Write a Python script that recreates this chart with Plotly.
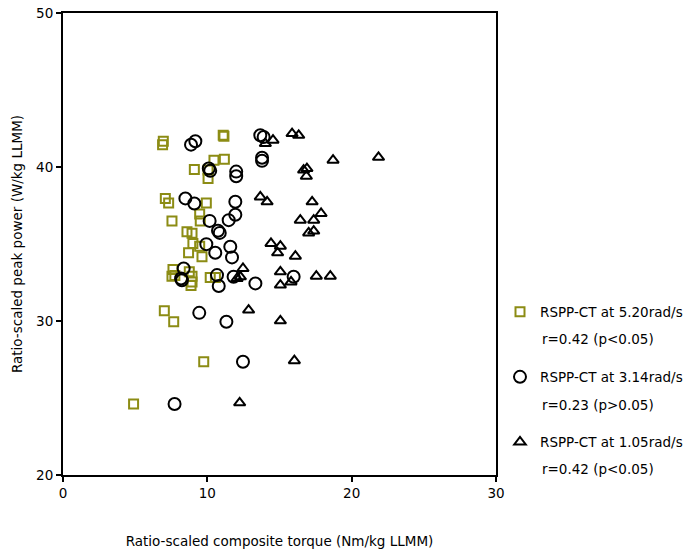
import plotly.graph_objects as go

# Ratio-scaled composite torque (x) vs ratio-scaled peak power (y)
torque_520 = [6.95, 6.9, 11.1, 11.15, 10.46, 11.18, 9.1, 10.05, 10.05, 7.09, 7.32, 9.93,
              7.55, 9.47, 9.51, 8.59, 8.94, 9.0, 9.47, 8.7, 9.63, 7.62, 7.55, 7.75, 8.75,
              8.94, 8.94, 8.87, 10.2, 10.56, 7.02, 7.67, 9.75, 4.89]
power_520 = [41.67, 41.45, 42.06, 42.0, 40.44, 40.5, 39.84, 39.8, 39.25, 37.96, 37.67, 37.67,
             36.5, 36.94, 36.5, 35.79, 35.69, 35.04, 34.86, 34.43, 34.17, 33.35, 32.9, 32.95, 33.2,
             32.9, 32.54, 32.3, 32.83, 32.83, 30.66, 29.95, 27.35, 24.61]

torque_314 = [8.87, 9.17, 10.1, 10.2, 12.0, 12.0, 13.67, 13.9, 13.79, 13.79, 8.48, 9.1,
              11.94, 11.94, 10.16, 11.48, 10.86, 10.74, 9.93, 10.55, 11.59, 11.71, 8.36, 8.18,
              8.24, 10.67, 10.79, 11.82, 13.33, 15.98, 9.44, 11.32, 12.47, 7.73]
power_314 = [41.45, 41.67, 39.9, 39.75, 39.7, 39.4, 42.06, 41.95, 40.6, 40.4, 37.96, 37.63,
             37.74, 36.9, 36.5, 36.55, 35.72, 35.86, 34.99, 34.43, 34.82, 34.13, 33.41, 32.76,
             32.65, 32.98, 32.27, 32.87, 32.44, 32.87, 30.53, 29.95, 27.35, 24.61]

torque_105 = [15.87, 16.33, 14.02, 14.55, 18.71, 21.86, 16.67, 16.9, 16.86, 13.67, 14.14, 17.26,
              17.88, 16.44, 17.37, 17.02, 17.37, 14.41, 15.06, 14.87, 16.1, 12.47, 12.06, 12.29,
              15.06, 15.06, 15.8, 17.55, 18.52, 12.86, 15.06, 16.03, 12.24]
power_105 = [42.17, 42.06, 41.52, 41.74, 40.44, 40.63, 39.8, 39.9, 39.4, 38.06, 37.74, 37.74,
             36.98, 36.55, 36.55, 35.72, 35.84, 35.04, 34.86, 34.43, 34.21, 33.41, 32.76, 32.87,
             33.19, 32.33, 32.54, 32.91, 32.91, 30.71, 30.01, 27.42, 24.69]

series_names = ["RSPP-CT at 5.20rad/s", "RSPP-CT at 3.14rad/s", "RSPP-CT at 1.05rad/s"]
series_stats = ["r=0.42 (p<0.05)", "r=0.23 (p>0.05)", "r=0.42 (p<0.05)"]

x_ticks = [0, 10, 20, 30]
y_ticks = [20, 30, 40, 50]

FONT = "DejaVu Sans"
OLIVE = "#8c8c14"

fig = go.Figure()
fig.add_trace(go.Scatter(
    x=torque_520, y=power_520, mode="markers", name=series_names[0], legendgroup="a",
    marker=dict(symbol="square-open", size=9, color=OLIVE, line=dict(width=2, color=OLIVE)),
))
fig.add_trace(go.Scatter(
    x=torque_314, y=power_314, mode="markers", name=series_names[1], legendgroup="b",
    marker=dict(symbol="circle-open", size=12, color="black", line=dict(width=2, color="black")),
))
fig.add_trace(go.Scatter(
    x=torque_105, y=power_105, mode="markers", name=series_names[2], legendgroup="c",
    marker=dict(symbol="triangle-up-open", size=10, color="black", line=dict(width=2, color="black")),
))

W, H = 688, 552
L, R, T, B = 63, 192, 13, 77
pw, ph = W - L - R, H - T - B


def px_to_paper(xp, yp):
    return (xp - L) / pw, (H - B - yp) / ph


# second line of each legend entry
for i, yp in enumerate([339, 405, 469]):
    xa, ya = px_to_paper(540, yp)
    fig.add_annotation(x=xa, y=ya, xref="paper", yref="paper", text=series_stats[i],
                       showarrow=False, xanchor="left", yanchor="middle",
                       font=dict(family=FONT, size=13.5, color="black"))

fig.update_layout(
    width=W, height=H,
    margin=dict(l=L, r=R, t=T, b=B, pad=0, autoexpand=False),
    paper_bgcolor="white", plot_bgcolor="white",
    font=dict(family=FONT, size=13.5, color="black"),
    showlegend=True,
    legend=dict(x=500 / W, y=(H - 296.5) / H, xref="container", yref="container",
                xanchor="left", yanchor="top", tracegroupgap=44.5,
                font=dict(family=FONT, size=13.5, color="black"), bgcolor="rgba(0,0,0,0)",
                valign="top"),
    xaxis=dict(range=[0, 30], tickvals=x_ticks, ticks="outside", ticklen=5, tickwidth=1.5,
               tickcolor="black", showline=True, linecolor="black", linewidth=2, mirror=True,
               showgrid=False, zeroline=False,
               title=dict(text="Ratio-scaled composite torque (Nm/kg LLMM)", standoff=36,
                          font=dict(family=FONT, size=13.5))),
    yaxis=dict(range=[20, 50], tickvals=y_ticks, ticks="outside", ticklen=5, tickwidth=1.5,
               tickcolor="black", showline=True, linecolor="black", linewidth=2, mirror=True,
               showgrid=False, zeroline=False,
               title=dict(text="Ratio-scaled peak power (W/kg LLMM)", standoff=10,
                          font=dict(family=FONT, size=13.5))),
)

fig.write_html("out.html")
